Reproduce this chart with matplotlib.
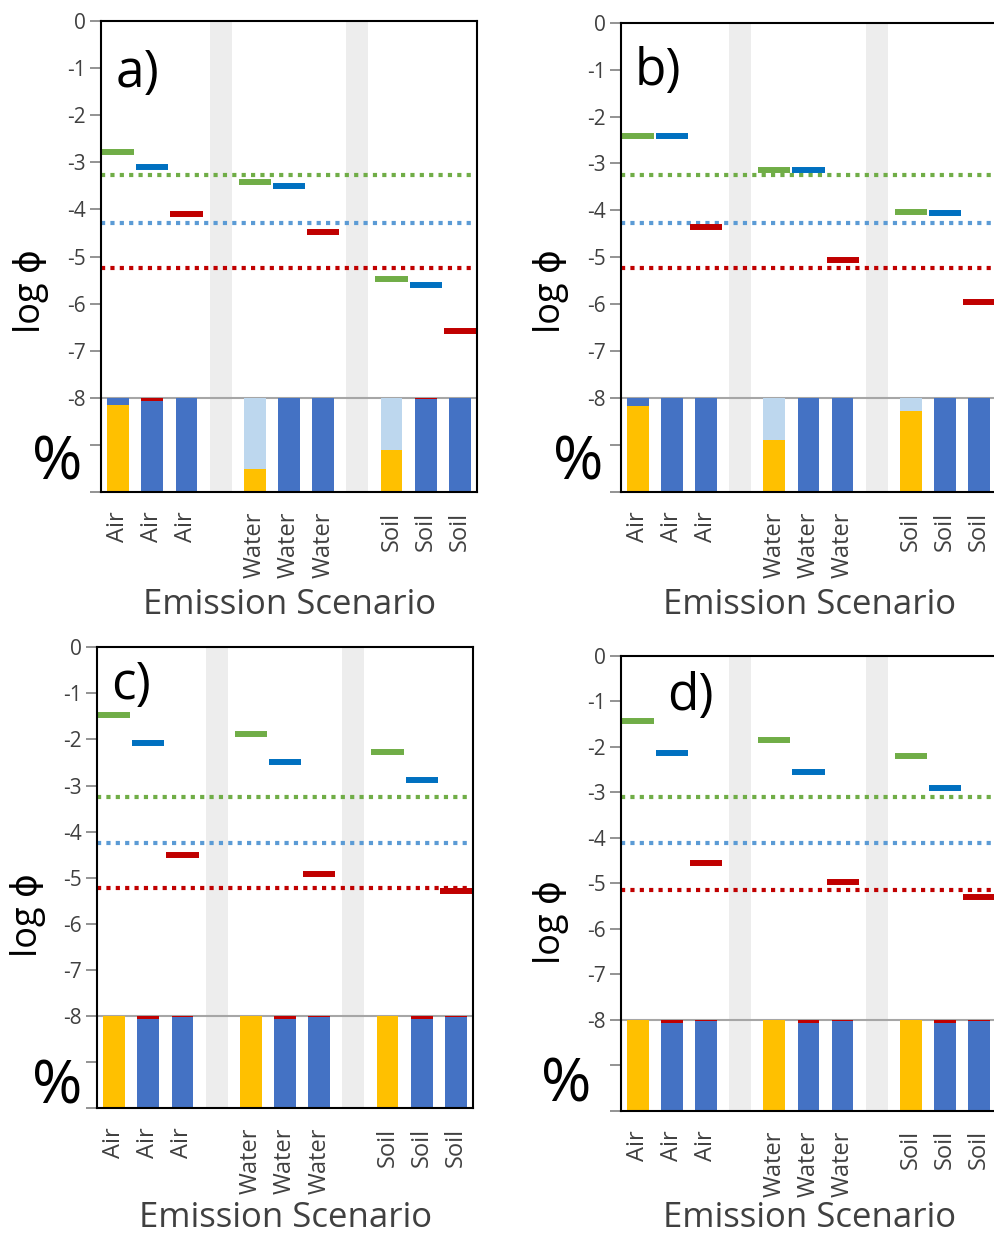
import matplotlib
matplotlib.use("Agg")
import matplotlib.pyplot as plt

plt.rcParams['font.family'] = ['Open Sans', 'DejaVu Sans']

# category slots: 3 air, gap, 3 water, gap, 3 soil
x_pos = [0, 1, 2, 4, 5, 6, 8, 9, 10]
x_labels = ['Air', 'Air', 'Air', 'Water', 'Water', 'Water', 'Soil', 'Soil', 'Soil']
gap_pos = [3, 7]
panels = ['a)', 'b)', 'c)', 'd)']

# log phi values (one per compartment: Air, Water, Soil)
green_a = [-2.78, -3.42, -5.48]
blue_a = [-3.10, -3.50, -5.60]
red_a = [-4.10, -4.48, -6.58]
thr_a = [-3.27, -4.29, -5.24]

green_b = [-2.42, -3.14, -4.04]
blue_b = [-2.42, -3.14, -4.06]
red_b = [-4.35, -5.05, -5.96]
thr_b = [-3.25, -4.27, -5.22]

green_c = [-1.46, -1.88, -2.27]
blue_c = [-2.07, -2.50, -2.89]
red_c = [-4.50, -4.91, -5.30]
thr_c = [-3.24, -4.24, -5.23]

green_d = [-1.43, -1.85, -2.19]
blue_d = [-2.14, -2.56, -2.90]
red_d = [-4.56, -4.97, -5.30]
thr_d = [-3.10, -4.11, -5.14]

# percent shares per bar (yellow, light blue, blue, red)
yel_a = [92.5, 0, 0, 24.5, 0, 0, 45, 0, 0]
lbl_a = [0, 0, 0, 75.5, 0, 0, 55, 0, 0]
blu_a = [7.5, 97, 100, 0, 100, 100, 0, 99, 100]
rd_a = [0, 3, 0, 0, 0, 0, 0, 1, 0]

yel_b = [91.7, 0, 0, 55, 0, 0, 86.7, 0, 0]
lbl_b = [0, 0, 0, 45, 0, 0, 13.3, 0, 0]
blu_b = [8.3, 100, 100, 0, 100, 100, 0, 100, 100]
rd_b = [0, 0, 0, 0, 0, 0, 0, 0, 0]

yel_c = [100, 0, 0, 100, 0, 0, 100, 0, 0]
lbl_c = [0, 0, 0, 0, 0, 0, 0, 0, 0]
blu_c = [0, 97, 98.5, 0, 97, 98.5, 0, 97, 98.5]
rd_c = [0, 3, 1.5, 0, 3, 1.5, 0, 3, 1.5]

yel_d = [100, 0, 0, 100, 0, 0, 100, 0, 0]
lbl_d = [0, 0, 0, 0, 0, 0, 0, 0, 0]
blu_d = [0, 96.5, 98.5, 0, 96.5, 98.5, 0, 96.5, 98.5]
rd_d = [0, 3.5, 1.5, 0, 3.5, 1.5, 0, 3.5, 1.5]

dash_cols = ['#70AD47', '#0070C0', '#C00000']
dot_cols = ['#70AD47', '#5B9BD5', '#C00000']
stack_cols = ['#FFC000', '#BDD7EE', '#4472C4', '#C00000']

W, H = 995, 1236
fig = plt.figure(figsize=(W / 100, H / 100), dpi=100)


def px_rect(l, t, r, b):
    return [l / W, 1 - b / H, (r - l) / W, (b - t) / H]


boxes = [(101, 21, 477, 492), (621, 22.7, 996, 492),
         (97, 647.3, 473, 1108), (621, 656, 996, 1110.7)]
letter_xy = [(0.096, 0.889), (0.099, 0.895), (0.09, 0.918), (0.184, 0.91)]
logphi_xy = [(31, 291), (551, 291), (28, 915), (551, 922)]
pct_xy = [(57, 463), (578, 463), (57, 1088), (566, 1085)]
xlab_xy = [(290, 605), (810, 605), (286, 1218), (810, 1218)]

phi_data = [(green_a, blue_a, red_a, thr_a), (green_b, blue_b, red_b, thr_b),
            (green_c, blue_c, red_c, thr_c), (green_d, blue_d, red_d, thr_d)]
pct_data = [(yel_a, lbl_a, blu_a, rd_a), (yel_b, lbl_b, blu_b, rd_b),
            (yel_c, lbl_c, blu_c, rd_c), (yel_d, lbl_d, blu_d, rd_d)]

for i in range(4):
    ax = fig.add_axes(px_rect(*boxes[i]))
    ax.set_xlim(-0.5, 10.5)
    ax.set_ylim(-10, 0)

    # grey separator bands
    ax.bar(gap_pos, 10, bottom=-10, width=0.64, color='#EDEDED', zorder=0)

    ax.axhline(-8, color='#A6A6A6', lw=1.5, zorder=1)

    # stacked share bars below -8 (100 % = 2 units)
    bottom = [-10] * len(x_pos)
    for vals, col in zip(pct_data[i], stack_cols):
        h = [v * 0.02 for v in vals]
        ax.bar(x_pos, h, bottom=bottom, width=0.64, color=col, zorder=2)
        bottom = [b + hh for b, hh in zip(bottom, h)]

    # thresholds
    for t, col in zip(phi_data[i][3], dot_cols):
        ax.axhline(t, color=col, lw=3, linestyle=(0, (1, 1.25)), zorder=3)

    # log phi dashes
    for k in range(3):
        xs = [x_pos[3 * g + k] for g in range(3)]
        ax.hlines(phi_data[i][k], [x - 0.47 for x in xs], [x + 0.47 for x in xs],
                  color=dash_cols[k], lw=4.3, zorder=4)

    ax.set_yticks(range(0, -11, -1))
    ax.set_yticklabels(['0', '-1', '-2', '-3', '-4', '-5', '-6', '-7', '-8', '', ''])
    ax.set_xticks(x_pos)
    ax.set_xticklabels(x_labels, rotation=90, va='top', ha='center')
    ax.tick_params(axis='y', direction='out', length=8, width=1.2, color='#808080',
                   labelsize=15, labelcolor='#404040', pad=3)
    ax.tick_params(axis='x', length=0, labelsize=17, labelcolor='#404040', pad=14)
    for s in ax.spines.values():
        s.set_color('black')
        s.set_linewidth(1.5)
        s.set_zorder(5)

    ax.text(letter_xy[i][0], letter_xy[i][1], panels[i], transform=ax.transAxes,
            fontsize=37, ha='center', va='center')

    fig.text(logphi_xy[i][0] / W, 1 - logphi_xy[i][1] / H, 'log ϕ', rotation=90,
             fontsize=26, ha='center', va='center')
    fig.text(pct_xy[i][0] / W, 1 - pct_xy[i][1] / H, '%', fontsize=44,
             ha='center', va='center')
    fig.text(xlab_xy[i][0] / W, 1 - xlab_xy[i][1] / H, 'Emission Scenario',
             fontsize=25, color='#404040', ha='center', va='center')

fig.savefig('out.png', dpi=100)
